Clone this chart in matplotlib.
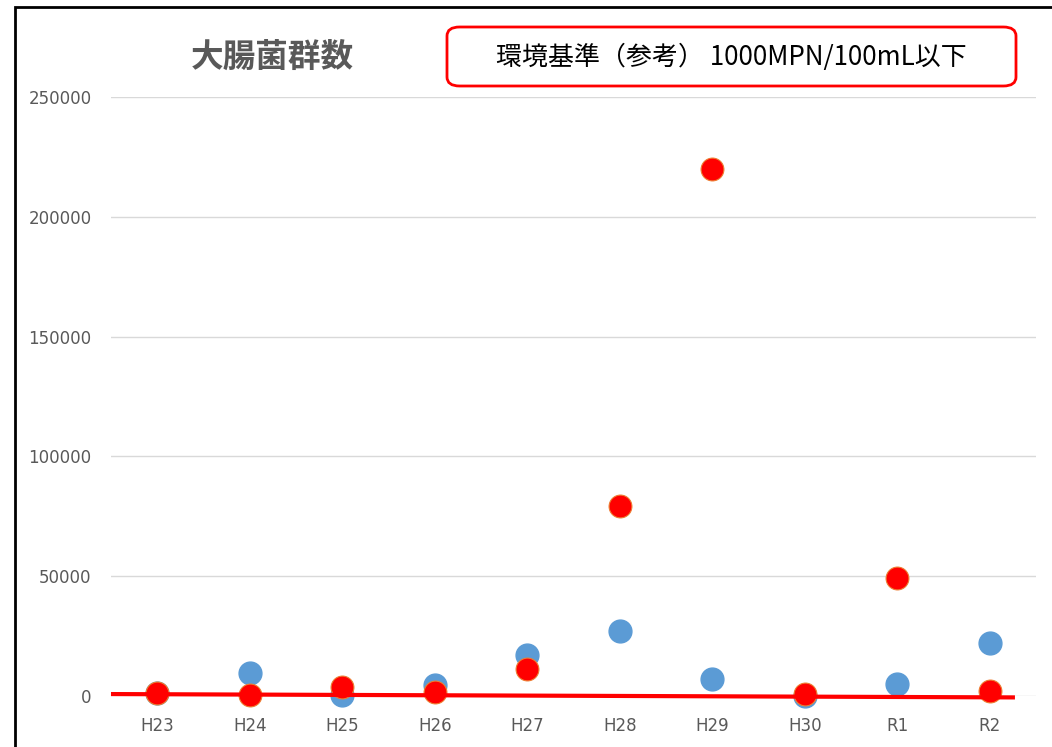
import matplotlib.pyplot as plt
from matplotlib.patches import FancyBboxPatch, Rectangle

plt.rcParams['font.family'] = ['Noto Sans CJK JP', 'DejaVu Sans']

# 年度ごとの大腸菌群数
years = ["H23", "H24", "H25", "H26", "H27", "H28", "H29", "H30", "R1", "R2"]
blue_vals = [1200, 9600, 500, 4400, 17100, 27100, 7100, 200, 5000, 22100]
red_vals = [1400, 400, 3700, 1800, 11300, 79300, 220000, 1000, 49200, 2000]

# 環境基準の線 (端点)
std_x = [-0.5, 9.27]
std_y = [800, -600]

fig = plt.figure(figsize=(10.52, 7.47), dpi=100)
ax = fig.add_axes([0.1055, 0.0683, 0.8795, 0.802])

x = list(range(len(years)))
ax.scatter(x, blue_vals, s=270, c="#5B9BD5", edgecolors="#5B9BD5",
           zorder=3, clip_on=False)
ax.scatter(x, red_vals, s=270, c="#FF0000", edgecolors="#ED7D31",
           linewidths=0.8, zorder=4, clip_on=False)
ax.plot(std_x, std_y, color="#FF0000", lw=3, zorder=5,
        solid_capstyle="butt", clip_on=False)

ax.set_xlim(-0.5, 9.5)
ax.set_ylim(0, 250000)
ax.set_yticks(range(0, 250001, 50000))
ax.set_xticks(x)
ax.set_xticklabels(years)
for lab in ax.get_xticklabels() + ax.get_yticklabels():
    lab.set_family("DejaVu Sans")
ax.tick_params(length=0, labelsize=12, labelcolor="#595959")
ax.tick_params(axis="y", pad=14)
ax.tick_params(axis="x", pad=15)
ax.grid(axis="y", color="#D9D9D9", lw=1)
ax.set_axisbelow(True)
for s in ax.spines.values():
    s.set_visible(False)

# 外枠
fig.patches.append(Rectangle((15 / 1052, -0.1), 1.2, 1 - 7 / 747 + 0.1,
                             transform=fig.transFigure, fill=False,
                             edgecolor="black", lw=2))

fig.text(272 / 1052, 1 - 57 / 747, "大腸菌群数", fontsize=23.5, fontweight="bold",
         color="#595959", ha="center", va="center")

box = FancyBboxPatch((447 / 1052, 1 - 86 / 747), (1016 - 447) / 1052, 59 / 747,
                     boxstyle="round,pad=0,rounding_size=0.012",
                     transform=fig.transFigure, fill=False,
                     edgecolor="#FF0000", lw=2)
fig.patches.append(box)
fig.text(731 / 1052, 1 - 57 / 747, "環境基準（参考） 1000MPN/100mL以下",
         fontsize=18.7, color="black", ha="center", va="center")

fig.savefig("out.png", dpi=100)
